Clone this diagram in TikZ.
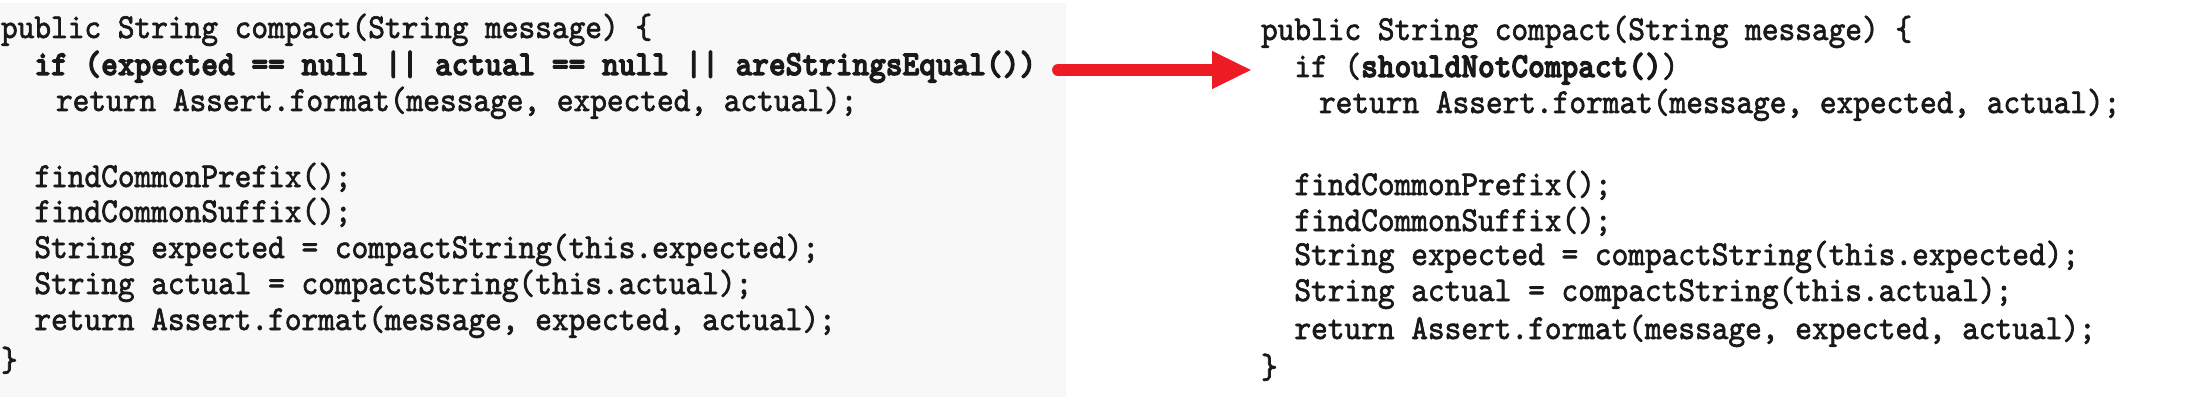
\documentclass[tikz,border=0pt]{standalone}
\usepackage{fontspec}
\usetikzlibrary{arrows.meta}
\newfontfamily\codefont{lmmono10-regular.otf}[FakeBold=2, BoldFont=lmmonolt10-bold.otf, BoldFeatures={FakeBold=3.5}]
\definecolor{panelgray}{RGB}{248,248,248}
\definecolor{inkc}{RGB}{25,25,25}
\definecolor{arrowred}{RGB}{237,28,36}
\begin{document}
\begin{tikzpicture}[x=1pt,y=-1pt,
  codeline/.style={anchor=base west, inner sep=0pt, outer sep=0pt, text=inkc,
    font=\codefont\fontsize{31.8}{38}\selectfont, yscale=1.1},
  codebold/.style={codeline, font=\codefont\bfseries\fontsize{31.8}{38}\selectfont},
  redarrow/.style={draw=arrowred, line width=12pt, line cap=round,
    -{Triangle[length=40pt,width=35pt]}}]
\useasboundingbox (0,0) rectangle (2185,401);
\fill[panelgray] (0,3) rectangle (1066,397);
% left listing
\node[codeline] (L1) at (1,38) {public String compact(String message) \{};
\node[codebold] (L2) at (34.4,75) {if (expected == null || actual == null || areStringsEqual())};
\node[codeline] (L3) at (56,111) {return Assert.format(message, expected, actual);};
\node[codeline] (L4) at (34.4,187) {findCommonPrefix();};
\node[codeline] (L5) at (34.4,222) {findCommonSuffix();};
\node[codeline] (L6) at (34.4,258) {String expected = compactString(this.expected);};
\node[codeline] (L7) at (34.4,294) {String actual = compactString(this.actual);};
\node[codeline] (L8) at (34.4,330) {return Assert.format(message, expected, actual);};
\node[codeline] (L9) at (1,371) {\}};
% right listing
\node[codeline] (R1) at (1261,40) {public String compact(String message) \{};
\node[codeline] (R2) at (1294.4,77) {if ({\bfseries shouldNotCompact()})};
\node[codeline] (R3) at (1319,113) {return Assert.format(message, expected, actual);};
\node[codeline] (R4) at (1294.4,195) {findCommonPrefix();};
\node[codeline] (R5) at (1294.4,231) {findCommonSuffix();};
\node[codeline] (R6) at (1294.4,265) {String expected = compactString(this.expected);};
\node[codeline] (R7) at (1294.4,301) {String actual = compactString(this.actual);};
\node[codeline] (R8) at (1294.4,339) {return Assert.format(message, expected, actual);};
\node[codeline] (R9) at (1261,378) {\}};
% arrow
\coordinate (arrowstart) at ([xshift=22pt,yshift=5pt]L2.base east);
\coordinate (arrowend) at ([xshift=-42.4pt]R2.base west |- arrowstart);
\draw[redarrow] (arrowstart) -- (arrowend);
\end{tikzpicture}
\end{document}
